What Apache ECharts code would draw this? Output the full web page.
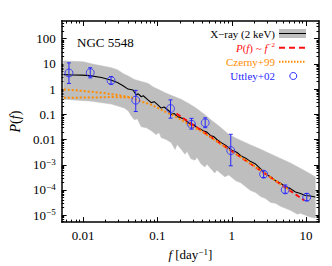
<!DOCTYPE html>
<html><head><meta charset="utf-8">
<script src="https://cdn.jsdelivr.net/npm/echarts@6/dist/echarts.min.js"></script>
<style>html,body{margin:0;padding:0;background:#fff}#c{width:332px;height:266px}</style>
</head><body><div id="c"></div>
<script>
// ---- data ----
const xTickValues = [0.01, 0.1, 1, 10];
const xTickLabels = ['0.01', '0.1', '1', '10'];
const yTickValues = [1e-5, 1e-4, 1e-3, 0.01, 0.1, 1, 10, 100];
const yTickLabels = ['{b|10}{s|−5}', '{b|10}{s|−4}', '{b|10}{s|−3}', '0.01', '0.1', '1', '10', '100'];

// X-ray (2 keV) PSD, black line  [f (day^-1), P(f)]
const xrayPSD = [[0.00548,3.74],[0.00702,3.64],[0.00955,3.57],[0.01222,3.42],[0.01768,2.86],[0.02406,2.24],[0.02894,1.82],[0.0345,1.357],[0.04023,1.0],[0.04693,0.914],[0.05196,0.584],[0.05527,0.65],[0.06063,0.497],[0.06447,0.543],[0.07451,0.373],[0.08249,0.29],[0.09047,0.317],[0.1014,0.238],[0.1122,0.177],[0.1231,0.194],[0.1449,0.1317],[0.1527,0.0971],[0.1675,0.108],[0.1837,0.0826],[0.2078,0.0722],[0.2279,0.066],[0.25,0.0504],[0.2828,0.0396],[0.3101,0.0385],[0.3401,0.0294],[0.3848,0.0253],[0.422,0.0215],[0.4629,0.0197],[0.5236,0.01398],[0.5742,0.01313],[0.6299,0.01004],[0.7125,0.00767],[0.8311,0.00586],[1.0,0.00374],[1.166,0.00313],[1.319,0.00228],[1.539,0.001826],[1.796,0.001334],[2.095,0.001066],[2.443,6.81e-4],[2.68,5.2e-4],[3.031,3.8e-4],[3.428,3.18e-4],[3.878,2.32e-4],[4.524,1.85e-4],[5.277,1.354e-4],[6.157,1.132e-4],[7.182,8.27e-5],[8.378,7.23e-5],[9.772,6.04e-5],[11.4,5.78e-5],[13.3,5.28e-5]];

// grey envelope
const bandUpper = [[0.00548,13.1],[0.01016,12.0],[0.01299,10.0],[0.01768,8.38],[0.02406,7.0],[0.02894,5.85],[0.0348,4.09],[0.0406,3.27],[0.0489,2.39],[0.06063,2.0],[0.0752,1.667],[0.0877,1.218],[0.1055,0.931],[0.127,0.711],[0.1527,0.568],[0.2078,0.397],[0.266,0.265],[0.33,0.177],[0.422,0.1034],[0.5236,0.0603],[0.691,0.0322],[0.912,0.0157],[1.319,0.00918],[1.796,0.00613],[2.443,0.00409],[3.878,0.002184],[6.157,0.001166],[9.19,6.22e-4],[13.3,3.32e-4]];
const bandLower = [[0.00548,0.397],[0.01299,0.332],[0.02406,0.2535],[0.0359,0.177],[0.0406,0.1353],[0.04455,0.0864],[0.0489,0.0603],[0.0536,0.066],[0.06063,0.0322],[0.0707,0.0294],[0.08249,0.0225],[0.0962,0.0157],[0.1055,0.0188],[0.1122,0.012],[0.131,0.01004],[0.1527,0.00767],[0.1728,0.00402],[0.1837,0.00641],[0.2078,0.0042],[0.235,0.002614],[0.25,0.00342],[0.2828,0.001714],[0.32,0.001526],[0.3401,0.001997],[0.3848,0.001095],[0.435,8.14e-4],[0.4629,0.001066],[0.5236,6.99e-4],[0.5925,4.75e-4],[0.6299,6.22e-4],[0.7125,4.47e-4],[0.806,3.32e-4],[0.912,3.97e-4],[1.131,2.32e-4],[1.319,1.939e-4],[1.539,1.354e-4],[1.796,9.46e-5],[2.095,7.9e-5],[2.443,5.52e-5],[2.85,4.61e-5],[3.325,3.22e-5],[3.878,2.95e-5],[4.524,2.25e-5],[5.277,1.882e-5],[6.157,1.573e-5],[7.64,1.099e-5],[8.378,1.202e-5],[9.772,1.005e-5],[11.4,8.4e-6],[13.3,7.67e-6]];

// P(f) ~ f^-2 reference line
const powerLaw = [[0.18,0.1071],[9.5,3.845e-5]];

// Czerny+99 (two dotted curves)
const czernyUpper = [[0.0055,0.973],[0.00955,0.851],[0.01768,0.711],[0.02806,0.594],[0.04455,0.462],[0.06063,0.323],[0.08249,0.2424],[0.1122,0.152],[0.1527,0.0988],[0.2078,0.062],[0.2828,0.0343],[0.3848,0.0219],[0.5236,0.012],[0.7125,0.00658],[0.9696,0.00358],[1.539,0.001526],[2.443,5.95e-4],[3.878,2.32e-4],[6.157,9.46e-5]];
const czernyLower = [[0.0055,0.454],[0.01299,0.462],[0.02406,0.484],[0.04455,0.462]];

// Uttley+02 points with error bars
const uttleyF  = [0.00646,0.01248,0.0238,0.0511,0.150,0.287,0.439,0.969,2.68,5.23,10.2];
const uttleyP  = [4.35,4.47,2.18,0.363,0.169,0.0403,0.0461,0.00364,4.23e-4,1.01e-4,5.19e-5];
const uttleyLo = [1.67,2.78,1.57,0.129,0.0703,0.0258,0.0294,9.1e-4,3.12e-4,7.43e-5,3.76e-5];
const uttleyHi = [10.96,7.0,3.12,0.89,0.373,0.069,0.0723,0.01614,5.69e-4,1.58e-4,7.23e-5];

// ---- styling / build ----
const SERIF = '"Liberation Serif","Times New Roman",serif';
const X_MIN = 0.00515, X_MAX = 14.9, Y_MIN = 5.33e-6, Y_MAX = 500;
const C_BLUE = '#2828ff', C_RED = '#ff1010', C_ORANGE = '#ff8c00', C_GREY = '#bebebe';

function minorList(lo, hi) {
  const out = [];
  for (let e = -7; e <= 3; e++) for (let m = 2; m <= 9; m++) {
    const v = m * Math.pow(10, e);
    if (v > lo && v < hi) out.push(v);
  }
  return out;
}
const xMinor = minorList(X_MIN, X_MAX);
const yMinor = minorList(Y_MIN, Y_MAX);

function lookup(values, labels, v) {
  for (let i = 0; i < values.length; i++) if (Math.abs(Math.log10(v) - Math.log10(values[i])) < 1e-6) return labels[i];
  return '';
}

const axisLine = { show: true, lineStyle: { color: '#000', width: 1.5 } };
function xAx(pos, major, showLabel) {
  return {
    type: 'log', logBase: 10, min: X_MIN, max: X_MAX, position: pos, gridIndex: 0,
    axisLine: major ? axisLine : { show: false },
    axisTick: { show: true, inside: true, length: major ? 5 : 2.5, lineStyle: { color: '#000', width: 1 },
      customValues: major ? xTickValues : xMinor },
    axisLabel: { show: showLabel, customValues: xTickValues, margin: 7, color: '#000', fontFamily: SERIF, fontSize: 13,
      formatter: v => lookup(xTickValues, xTickLabels, v) },
    splitLine: { show: false }
  };
}
function yAx(pos, major, showLabel) {
  return {
    type: 'log', logBase: 10, min: Y_MIN, max: Y_MAX, position: pos, gridIndex: 0,
    axisLine: major ? axisLine : { show: false },
    axisTick: { show: true, inside: true, length: major ? 5 : 2.5, lineStyle: { color: '#000', width: 1 },
      customValues: major ? yTickValues : yMinor },
    axisLabel: { show: showLabel, customValues: yTickValues, margin: 6, color: '#000', fontFamily: SERIF, fontSize: 13,
      formatter: v => lookup(yTickValues, yTickLabels, v),
      rich: { b: { fontFamily: SERIF, fontSize: 13, color: '#000', lineHeight: 15 },
              s: { fontFamily: SERIF, fontSize: 9, color: '#000', lineHeight: 15, verticalAlign: 'top' } } },
    splitLine: { show: false }
  };
}

const xAxes = [xAx('bottom', true, true), xAx('top', true, false), xAx('bottom', false, false), xAx('top', false, false)];
xAxes[0].name = '{i|f} [day{s|−1}]';
xAxes[0].nameLocation = 'middle';
xAxes[0].nameGap = 20;
xAxes[0].nameTextStyle = { fontFamily: SERIF, fontSize: 13, color: '#000', verticalAlign: 'top',
  rich: { i: { fontFamily: SERIF, fontSize: 13, fontStyle: 'italic', color: '#000', lineHeight: 15 },
          s: { fontFamily: SERIF, fontSize: 9, color: '#000', lineHeight: 15, verticalAlign: 'top' } } };
const yAxes = [yAx('left', true, true), yAx('right', true, false), yAx('left', false, false), yAx('right', false, false)];
yAxes[0].name = '{i|P}({i|f})';
yAxes[0].nameLocation = 'middle';
yAxes[0].nameGap = 38;
yAxes[0].nameTextStyle = { fontFamily: SERIF, fontSize: 14, color: '#000',
  rich: { i: { fontFamily: SERIF, fontSize: 14, fontStyle: 'italic', color: '#000' } } };

const errData = uttleyF.map((f, i) => [f, uttleyLo[i], uttleyHi[i]]);
const ptData = uttleyF.map((f, i) => [f, uttleyP[i]]);

const option = {
  animation: false,
  backgroundColor: '#fff',
  title: { text: 'NGC 5548', left: 72, top: 31, textStyle: { fontFamily: SERIF, fontSize: 13, fontWeight: 'normal', color: '#000' } },
  grid: { left: 60, right: 13, top: 21, bottom: 40 },
  xAxis: xAxes,
  yAxis: yAxes,
  series: [
    { type: 'custom', xAxisIndex: 0, yAxisIndex: 0, silent: true, z: 1, clip: true,
      data: [bandUpper[0]],
      renderItem: (params, api) => {
        const pts = bandUpper.map(p => api.coord(p)).concat(bandLower.slice().reverse().map(p => api.coord(p)));
        return { type: 'polygon', shape: { points: pts }, style: { fill: C_GREY, stroke: C_GREY, lineWidth: 0.5 } };
      } },
    { type: 'line', name: 'X-ray', data: xrayPSD, showSymbol: false, z: 3, lineStyle: { color: '#000', width: 1.1 } },
    { type: 'line', name: 'pl', data: powerLaw, showSymbol: false, z: 4, lineStyle: { color: C_RED, width: 2, type: [5, 3] } },
    { type: 'line', name: 'cz1', data: czernyUpper, showSymbol: false, z: 5, lineStyle: { color: C_ORANGE, width: 2, type: [2, 2] } },
    { type: 'line', name: 'cz2', data: czernyLower, showSymbol: false, z: 5, lineStyle: { color: C_ORANGE, width: 2, type: [2, 2] } },
    { type: 'custom', name: 'err', z: 6, data: errData, encode: { x: 0, y: [1, 2] },
      renderItem: (params, api) => {
        const f = api.value(0);
        const lo = api.coord([f, api.value(1)]);
        const hi = api.coord([f, api.value(2)]);
        const w = 2;
        const st = { stroke: C_BLUE, lineWidth: 1 };
        return { type: 'group', children: [
          { type: 'line', shape: { x1: lo[0], y1: lo[1], x2: hi[0], y2: hi[1] }, style: st },
          { type: 'line', shape: { x1: lo[0] - w, y1: lo[1], x2: lo[0] + w, y2: lo[1] }, style: st },
          { type: 'line', shape: { x1: hi[0] - w, y1: hi[1], x2: hi[0] + w, y2: hi[1] }, style: st }
        ] };
      } },
    { type: 'scatter', name: 'Uttley', data: ptData, z: 7, symbol: 'circle', symbolSize: 8,
      itemStyle: { color: 'rgba(0,0,0,0)', borderColor: C_BLUE, borderWidth: 1 } }
  ],
  graphic: [
    { type: 'text', style: { text: 'X−ray (2 keV)', x: 275, y: 33.5, align: 'right', verticalAlign: 'middle', font: '11px ' + SERIF, fill: '#000' } },
    { type: 'rect', shape: { x: 279, y: 29, width: 27, height: 9 }, style: { fill: C_GREY } },
    { type: 'line', shape: { x1: 279, y1: 33.5, x2: 306, y2: 33.5 }, style: { stroke: '#000', lineWidth: 1 } },
    { type: 'text', style: { text: '{i|P}({i|f}) ~ {i|f}{s|−2}', x: 275, y: 47.7, align: 'right', verticalAlign: 'middle', font: '11px ' + SERIF, fill: C_RED,
      rich: { i: { fontStyle: 'italic', fontFamily: SERIF, fontSize: 11, fill: C_RED, lineHeight: 13 }, s: { fontFamily: SERIF, fontSize: 7, fill: C_RED, lineHeight: 13, verticalAlign: 'top' } } } },
    { type: 'line', shape: { x1: 279, y1: 47.7, x2: 306, y2: 47.7 }, style: { stroke: C_RED, lineWidth: 2, lineDash: [6, 4] } },
    { type: 'text', style: { text: 'Czerny+99', x: 275, y: 61.7, align: 'right', verticalAlign: 'middle', font: '11px ' + SERIF, fill: C_ORANGE } },
    { type: 'line', shape: { x1: 279, y1: 61.7, x2: 306, y2: 61.7 }, style: { stroke: C_ORANGE, lineWidth: 2, lineDash: [1.5, 1.5] } },
    { type: 'text', style: { text: 'Uttley+02', x: 275, y: 76, align: 'right', verticalAlign: 'middle', font: '11px ' + SERIF, fill: C_BLUE } },
    { type: 'circle', shape: { cx: 293.3, cy: 76, r: 3.5 }, style: { fill: 'none', stroke: C_BLUE, lineWidth: 1 } }
  ]
};
const chart = echarts.init(document.getElementById('c'), null, { renderer: 'svg' });
chart.setOption(option);
</script>
</body></html>
